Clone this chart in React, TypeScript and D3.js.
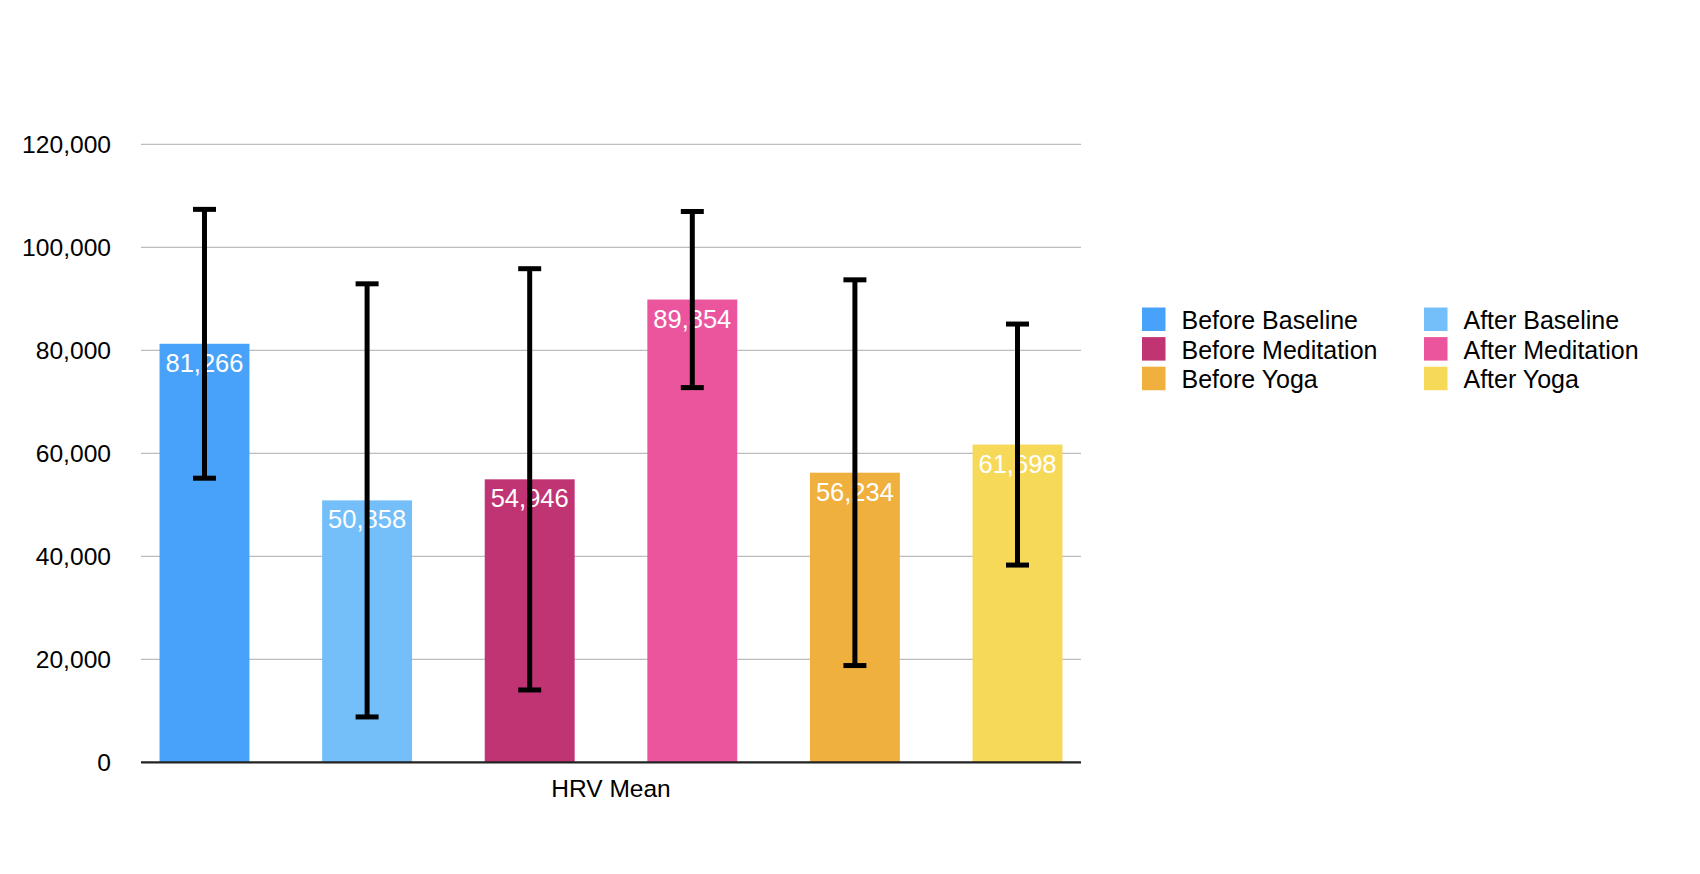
import React from "react";
import * as d3 from "d3";

const seriesNames = [
  "Before Baseline",
  "After Baseline",
  "Before Meditation",
  "After Meditation",
  "Before Yoga",
  "After Yoga",
];
const meanValues = [81266, 50858, 54946, 89854, 56234, 61698];
const errorValues = [26100, 42050, 40900, 17100, 37450, 23400];
const seriesColors = ["#49a2f9", "#74bff9", "#c13474", "#ea559e", "#f0b03e", "#f7d95a"];
const yTicks = [0, 20000, 40000, 60000, 80000, 100000, 120000];
const categoryLabel = "HRV Mean";
// legend order: rows of two columns
const legendOrder = [0, 1, 2, 3, 4, 5];

const W = 1700;
const H = 874;
const FONT = "'Liberation Sans', Arial, Helvetica, sans-serif";

export default function App() {
  const left = 141;
  const right = 1081;
  const top = 144.3;
  const bottom = 762.3;

  const y = d3.scaleLinear().domain([0, 120000]).range([bottom, top]);
  const x = d3
    .scaleBand<string>()
    .domain(seriesNames)
    .range([left, right])
    .paddingInner(0.447)
    .paddingOuter(0.114);
  const fmt = d3.format(",");

  const capW = 23;

  return (
    <svg
      width={W}
      height={H}
      style={{ position: "absolute", left: 0, top: 0, background: "#fff" }}
      fontFamily={FONT}
    >
      {/* gridlines */}
      {yTicks.slice(1).map((t) => (
        <line key={"g" + t} x1={left} x2={right} y1={y(t)} y2={y(t)} stroke="#bdbdbd" strokeWidth={1.2} />
      ))}
      {/* y tick labels */}
      {yTicks.map((t) => (
        <text key={"t" + t} x={111} y={y(t)} dy="0.37em" textAnchor="end" fontSize={24.6} fill="#000">
          {fmt(t)}
        </text>
      ))}
      {/* bars */}
      {seriesNames.map((s, i) => (
        <rect
          key={"b" + s}
          x={x(s)}
          y={y(meanValues[i])}
          width={x.bandwidth()}
          height={y(0) - y(meanValues[i])}
          fill={seriesColors[i]}
        />
      ))}
      {/* value labels */}
      {seriesNames.map((s, i) => (
        <text
          key={"v" + s}
          x={(x(s) as number) + x.bandwidth() / 2}
          y={y(meanValues[i]) + 28}
          textAnchor="middle"
          fontSize={25.5}
          fill="#fff"
        >
          {fmt(meanValues[i])}
        </text>
      ))}
      {/* error bars */}
      {seriesNames.map((s, i) => {
        const cx = (x(s) as number) + x.bandwidth() / 2;
        const yHi = y(meanValues[i] + errorValues[i]);
        const yLo = y(meanValues[i] - errorValues[i]);
        return (
          <g key={"e" + s} stroke="#000" strokeWidth={5}>
            <line x1={cx} x2={cx} y1={yHi} y2={yLo} />
            <line x1={cx - capW / 2} x2={cx + capW / 2} y1={yHi} y2={yHi} />
            <line x1={cx - capW / 2} x2={cx + capW / 2} y1={yLo} y2={yLo} />
          </g>
        );
      })}
      {/* x axis */}
      <line x1={left} x2={right} y1={bottom} y2={bottom} stroke="#222" strokeWidth={2.2} />
      <text x={(left + right) / 2} y={797} textAnchor="middle" fontSize={24.5} fill="#000">
        {categoryLabel}
      </text>
      {/* legend */}
      {legendOrder.map((idx, k) => {
        const col = k % 2;
        const row = Math.floor(k / 2);
        const sx = col === 0 ? 1142 : 1424;
        const sy = 307.5 + row * 29.6;
        return (
          <g key={"l" + idx}>
            <rect x={sx} y={sy} width={23.5} height={23.5} fill={seriesColors[idx]} />
            <text x={sx + 39.5} y={sy + 21.5} fontSize={25} fill="#000">
              {seriesNames[idx]}
            </text>
          </g>
        );
      })}
    </svg>
  );
}
